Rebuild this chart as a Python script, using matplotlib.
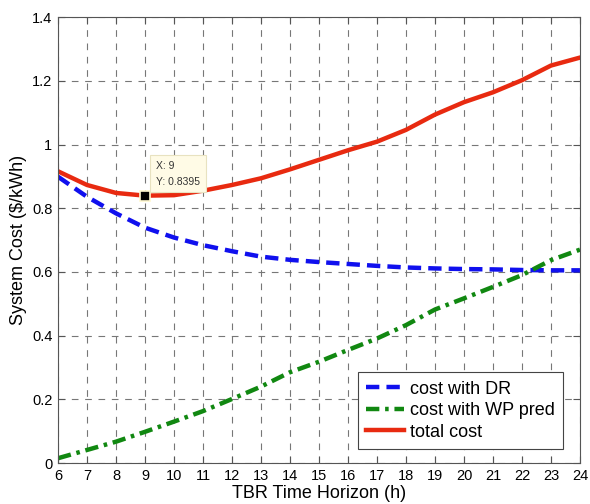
import matplotlib
matplotlib.use("Agg")
import matplotlib.pyplot as plt
import numpy as np

plt.rcParams["font.family"] = ["Liberation Sans", "DejaVu Sans"]

# data
hours = np.arange(6, 25)
cost_dr = [0.899, 0.836, 0.784, 0.739, 0.708, 0.684, 0.665, 0.648, 0.638, 0.631,
           0.625, 0.619, 0.614, 0.611, 0.609, 0.608, 0.606, 0.605, 0.605]
cost_wp = [0.015, 0.041, 0.067, 0.098, 0.130, 0.163, 0.201, 0.240, 0.285, 0.318,
           0.355, 0.391, 0.433, 0.482, 0.517, 0.553, 0.590, 0.637, 0.670]
cost_total = [0.916, 0.873, 0.848, 0.8395, 0.841, 0.855, 0.873, 0.894, 0.922, 0.952,
              0.982, 1.009, 1.046, 1.094, 1.133, 1.164, 1.202, 1.248, 1.273]
tip_x, tip_y = 9, 0.8395

fig = plt.figure(figsize=(5.9, 5.04), dpi=100)
ax = fig.add_axes([0.0983, 0.0813, 0.8847, 0.8847])

ax.plot(hours, cost_dr, color="#1010ee", linestyle=(0, (3, 1.6)), lw=3.2, label="cost with DR")
ax.plot(hours, cost_wp, color="#118811", linestyle=(0, (3, 1.3, 0.8, 1.3)), lw=3.2,
        label="cost with WP pred")
ax.plot(hours, cost_total, color="#e82a10", lw=3.2, label="total cost")

# data tip
ax.plot([tip_x], [tip_y], marker="s", color="black", ms=7, mec="#fff8d0", mew=1.2, zorder=5)
ax.annotate(f"X: {tip_x}\nY: {tip_y}", xy=(tip_x, tip_y), xytext=(8, 8),
            textcoords="offset points", fontsize=7.5, color="#333333", linespacing=1.7,
            bbox=dict(boxstyle="square,pad=0.55", fc="#fffbe6", ec="#e8e2c0", lw=0.8),
            zorder=6)

ax.set_xlim(6, 24)
ax.set_ylim(0, 1.4)
ax.set_xticks(hours)
ax.set_yticks(np.arange(0, 1.41, 0.2))
ax.set_yticklabels(["0", "0.2", "0.4", "0.6", "0.8", "1", "1.2", "1.4"])
ax.tick_params(direction="in", top=True, right=True, labelsize=10.5, length=5,
               color="#555555", pad=4)
ax.grid(True, linestyle=(0, (6, 6)), color="#777777", lw=0.8)
for s in ax.spines.values():
    s.set_color("#555555")

ax.set_xlabel("TBR Time Horizon (h)", fontsize=13, labelpad=2)
ax.set_ylabel("System Cost ($/kWh)", fontsize=13, labelpad=4)

leg = ax.legend(loc="lower right", bbox_to_anchor=(0.968, 0.032), fontsize=13,
                fancybox=False, edgecolor="#444444", framealpha=1, handlelength=2.1,
                borderpad=0.45, labelspacing=0.25, handletextpad=0.35, borderaxespad=0)
leg.get_frame().set_linewidth(0.8)

fig.savefig("out.png", dpi=100)
